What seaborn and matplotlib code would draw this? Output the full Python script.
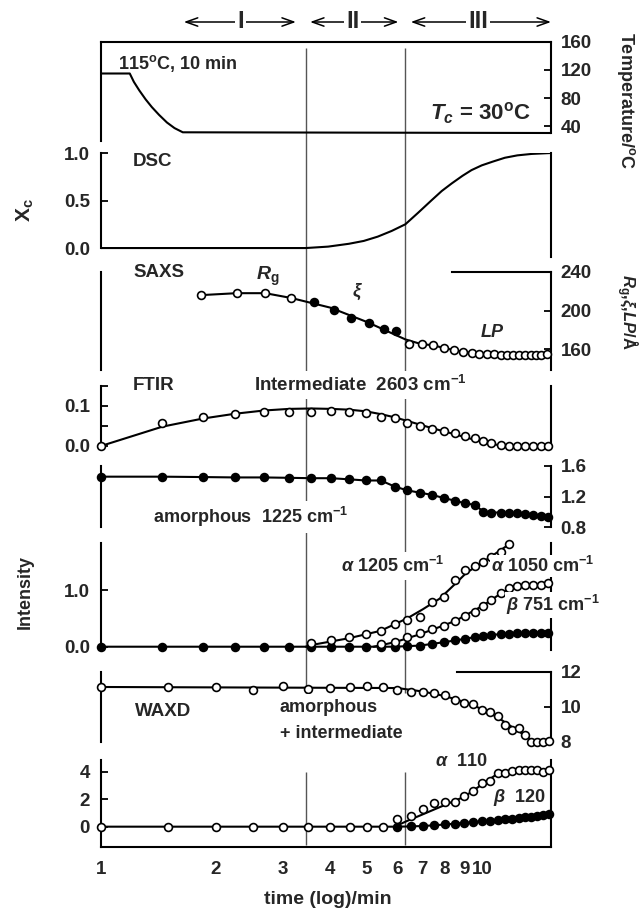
import matplotlib
matplotlib.use("Agg")
import matplotlib.pyplot as plt
from matplotlib.ticker import FixedLocator, FixedFormatter, NullLocator, NullFormatter
import seaborn as sns

sns.set_theme(style="white")
plt.rcParams["font.family"] = ["Liberation Sans", "DejaVu Sans"]
plt.rcParams["font.weight"] = "bold"
plt.rcParams["mathtext.fontset"] = "custom"
plt.rcParams["mathtext.rm"] = "Liberation Sans:bold"
plt.rcParams["mathtext.bf"] = "Liberation Sans:bold"
plt.rcParams["mathtext.it"] = "Liberation Sans:italic:bold"
plt.rcParams["axes.unicode_minus"] = False

# ---------------- data ----------------
VLINES = [3.45, 6.3]
XTICKS = [1, 2, 3, 4, 5, 6, 7, 8, 9, 10]
XTICK_LABELS = ["1", "2", "3", "4", "5", "6", "7", "8", "9", "10"]

TEMP_T = [1.0, 1.19, 1.22, 1.26, 1.31, 1.36, 1.42, 1.49, 1.56, 1.64, 15.2]
TEMP_C = [115, 115, 103, 91, 78, 67, 56, 45, 37, 31, 30]

DSC_T = [1.0, 3.45, 3.95, 4.48, 4.9, 5.33, 5.8, 6.3, 6.8, 7.37, 7.85, 8.34,
         8.9, 9.4, 10.0, 10.7, 11.5, 12.4, 13.5, 15.2]
DSC_X = [0.0, 0.0, 0.015, 0.045, 0.075, 0.12, 0.18, 0.25, 0.37, 0.50, 0.60, 0.68,
         0.76, 0.82, 0.87, 0.91, 0.95, 0.975, 0.99, 1.0]

RG_T = [1.835, 2.27, 2.70, 3.16]
RG_V = [216, 218, 218, 213]
XI_T = [3.62, 4.10, 4.53, 5.05, 5.53, 5.96]
XI_V = [209, 201, 192, 187, 181, 179]
LP_T = [6.45, 6.95, 7.45, 7.95, 8.45, 8.95, 9.4, 9.85, 10.3, 10.75, 11.2, 11.65,
        12.1, 12.55, 13.0, 13.45, 13.9, 14.35, 14.8]
LP_V = [165, 165, 164, 161, 159, 157, 156, 155, 155, 155, 154, 154,
        154, 154, 154, 154, 154, 154, 155]
SAXS_FIT_T = [1.835, 2.27, 2.70, 3.16, 4.0, 5.0, 6.3, 6.95, 7.45, 7.95, 8.45, 8.95, 9.85, 14.8]
SAXS_FIT_V = [216, 218, 218, 213, 203, 188, 170, 165, 164, 161, 159, 157, 155, 155]

T_IR = [1.0, 1.45, 1.85, 2.25, 2.68, 3.12, 3.57, 4.02, 4.49, 4.96, 5.43, 5.91, 6.38, 6.88,
        7.42, 7.95, 8.5, 9.05, 9.6, 10.1, 10.6, 11.2, 11.76, 12.35, 12.95, 13.6, 14.3, 14.95]
INTER_2603 = [0.0, 0.058, 0.071, 0.079, 0.085, 0.084, 0.085, 0.087, 0.085, 0.081, 0.072, 0.069,
              0.058, 0.049, 0.042, 0.037, 0.031, 0.025, 0.019, 0.013, 0.008, 0.003, 0.0, 0.0,
              0.0, 0.0, 0.0, 0.0]
INTER_FIT_T = [1.0, 1.45, 1.85, 2.25, 2.68, 3.12, 3.57, 4.02, 4.49, 4.96, 5.43, 5.91, 6.38,
               6.88, 7.42, 8.5, 9.6, 10.6, 11.5, 14.95]
INTER_FIT_V = [0.0, 0.048, 0.068, 0.080, 0.088, 0.092, 0.093, 0.092, 0.090, 0.086, 0.079, 0.071,
               0.062, 0.053, 0.044, 0.029, 0.015, 0.005, 0.0, 0.0]
AMORPH_1225 = [1.46, 1.46, 1.455, 1.45, 1.45, 1.445, 1.44, 1.44, 1.425, 1.41, 1.41, 1.33,
               1.28, 1.25, 1.22, 1.18, 1.145, 1.11, 1.09, 1.0, 0.99, 0.99, 0.98, 0.98,
               0.965, 0.96, 0.945, 0.93]

A1205_T = [3.57, 4.02, 4.49, 4.96, 5.43, 5.91, 6.38, 6.88, 7.42, 7.95, 8.5, 9.05, 9.6,
           10.1, 10.6, 11.2, 11.76]
A1205_V = [0.07, 0.12, 0.17, 0.22, 0.28, 0.40, 0.48, 0.52, 0.79, 0.88, 1.18, 1.35, 1.42,
           1.50, 1.59, 1.68, 1.81]
A1205_FIT_T = [3.45, 3.57, 4.48, 5.42, 6.37, 7.0, 7.76, 8.55, 9.1, 10.1, 10.9, 11.76]
A1205_FIT_V = [0.0, 0.03, 0.15, 0.28, 0.50, 0.66, 0.85, 1.12, 1.30, 1.50, 1.65, 1.80]
A1050_T = [5.43, 5.91, 6.38, 6.88, 7.42, 7.95, 8.5, 9.05, 9.6, 10.1, 10.6, 11.2, 11.76,
           12.35, 12.95, 13.6, 14.3, 14.95]
A1050_V = [0.04, 0.09, 0.17, 0.24, 0.32, 0.36, 0.45, 0.55, 0.62, 0.71, 0.82, 0.94, 1.03,
           1.07, 1.09, 1.09, 1.09, 1.12]
A1050_FIT_T = [5.2, 5.91, 6.38, 6.88, 7.76, 8.55, 10.1, 11.0, 11.76, 12.4, 13.5, 14.95]
A1050_FIT_V = [0.0, 0.08, 0.15, 0.22, 0.35, 0.46, 0.73, 0.90, 1.02, 1.07, 1.09, 1.11]
B751_V = [0, 0, 0, 0, 0, 0, 0, 0, 0, 0, 0, 0, 0.01, 0.02, 0.05, 0.08, 0.11, 0.14, 0.17,
          0.19, 0.21, 0.22, 0.23, 0.24, 0.24, 0.25, 0.25, 0.25]

T_X = [1.0, 1.5, 2.0, 2.5, 3.0, 3.5, 4.0, 4.5, 5.0, 5.5, 6.0, 6.5, 7.0, 7.5, 8.0, 8.5, 9.0,
       9.5, 10.0, 10.5, 11.0, 11.5, 12.0, 12.5, 13.0, 13.5, 14.0, 14.5, 15.0]
WAXD_AM = [11.16, 11.12, 11.12, 10.97, 11.2, 11.0, 11.06, 11.12, 11.21, 11.12, 10.97, 10.87,
           10.87, 10.81, 10.68, 10.4, 10.2, 10.16, 9.82, 9.72, 9.47, 8.95, 8.7, 8.76, 8.38,
           8.0, 8.0, 8.0, 8.03]
WAXD_AM_FIT_T = [1.0, 6.0, 7.0, 8.0, 9.0, 10.0, 11.0, 12.0, 13.0, 13.6, 15.0]
WAXD_AM_FIT_V = [11.14, 11.08, 10.88, 10.62, 10.28, 9.88, 9.4, 8.85, 8.35, 8.05, 8.03]
A110_V = [0, 0, 0, 0, 0, 0, 0, 0, 0, 0, 0.54, 0.78, 1.27, 1.7, 1.82, 1.82, 2.23, 2.62,
          3.2, 3.35, 3.93, 3.9, 4.07, 4.1, 4.1, 4.1, 4.1, 4.0, 4.1]
A110_FIT_T = [1.0, 5.9, 6.3, 9.0, 11.0, 12.0, 15.0]
A110_FIT_V = [0.0, 0.0, 0.36, 2.18, 3.85, 4.05, 4.1]
B120_T = [6.0, 6.5, 7.0, 7.5, 8.0, 8.5, 9.0, 9.5, 10.0, 10.5, 11.0, 11.5, 12.0, 12.5,
          13.0, 13.5, 14.0, 14.5, 15.0]
B120_V = [0.0, 0.02, 0.05, 0.1, 0.16, 0.22, 0.28, 0.33, 0.38, 0.43, 0.48, 0.53, 0.58,
          0.63, 0.68, 0.73, 0.78, 0.83, 0.9]

# ---------------- layout helpers ----------------
W, H = 641, 914
fig = plt.figure(figsize=(W / 100, H / 100), dpi=100)
XL, XR = 101, 551
XLIM = (1.0, 15.2)
LW = 1.5
SP_LW = 1.5
TICK_FS = 13.5


def rect(top, bot):
    return [XL / W, 1 - bot / H, (XR - XL) / W, (bot - top) / H]


def fx(x):
    return x / W


def fy(y):
    return 1 - y / H


def line(ax, x, y, lw=LW):
    sns.lineplot(x=x, y=y, ax=ax, color="black", linewidth=lw, estimator=None,
                 sort=False, legend=False)


def pts(ax, x, y, filled):
    sns.scatterplot(x=x, y=y, ax=ax, s=32, color="black" if filled else "white",
                    edgecolor="black", linewidth=1.2, legend=False, zorder=5,
                    clip_on=False)


def panel(top, bot):
    ax = fig.add_axes(rect(top, bot))
    ax.set_zorder(2)
    ax.patch.set_visible(False)
    return ax


def finish(ax, ylim, left=None, right=None, top=None, bottom=False):
    ax.set_xscale("log")
    ax.set_xlim(*XLIM)
    ax.set_ylim(*ylim)
    ax.set_xlabel("")
    ax.set_ylabel("")
    ax.xaxis.set_major_locator(NullLocator())
    ax.xaxis.set_minor_locator(NullLocator())
    ax.yaxis.set_major_locator(NullLocator())
    ax.yaxis.set_minor_locator(NullLocator())
    for name, b in (("left", left), ("right", right), ("top", top)):
        sp = ax.spines[name]
        sp.set_linewidth(SP_LW)
        sp.set_color("black")
        if b is None:
            sp.set_visible(False)
        else:
            sp.set_visible(True)
            sp.set_bounds(*b)
    ax.spines["bottom"].set_visible(bottom)
    ax.spines["bottom"].set_linewidth(SP_LW)
    ax.spines["bottom"].set_color("black")
    ax.tick_params(axis="both", which="both", direction="in", length=5, width=1.3,
                   color="black", labelsize=TICK_FS, left=False, right=False,
                   labelleft=False, labelright=False, bottom=False, top=False,
                   labelbottom=False)


def yticks(ax, ticks, labels, side):
    ax.yaxis.set_major_locator(FixedLocator(ticks))
    ax.yaxis.set_major_formatter(FixedFormatter(labels))
    if side == "left":
        ax.tick_params(axis="y", which="major", left=True, labelleft=True, pad=8)
    else:
        ax.tick_params(axis="y", which="major", right=True, labelright=True, pad=7)


def caps(ax, ticks, side):
    ax.yaxis.set_minor_locator(FixedLocator(ticks))
    ax.yaxis.set_minor_formatter(NullFormatter())
    if side == "left":
        ax.tick_params(axis="y", which="minor", left=True, length=5, width=1.3)
    else:
        ax.tick_params(axis="y", which="minor", right=True, length=5, width=1.3)


# ---------------- overlay for vertical region lines ----------------
ov = fig.add_axes(rect(42, 847))
ov.set_zorder(1)
ov.patch.set_visible(False)
ov.set_xscale("log")
ov.set_xlim(*XLIM)
ov.set_ylim(847, 42)
ov.axis("off")
ov.vlines(VLINES, 48, 693, color="#555555", linewidth=1.0)
ov.vlines(VLINES, 772, 845, color="#555555", linewidth=1.0)

# header arrows
for (a, b, mid, lab) in [(1.65, 3.25, 2.33, "I"), (3.54, 6.04, 4.58, "II"),
                         (6.51, 15.2, 9.8, "III")]:
    ov.annotate("", xy=(b, 22), xytext=(a, 22), annotation_clip=False,
                arrowprops=dict(arrowstyle="<->,head_length=0.7,head_width=0.25",
                                lw=1.1, color="black", shrinkA=0, shrinkB=0))
    ov.text(mid, 22, lab, ha="center", va="center", fontsize=17, fontweight="bold",
            clip_on=False, bbox=dict(facecolor="white", edgecolor="none", pad=1.5))

# ---------------- panel 1: temperature ----------------
ax = panel(42, 141.4)
line(ax, TEMP_T, TEMP_C)
finish(ax, (18, 160), left=(18, 160), right=(30, 160), top=(1.0, 15.2))
yticks(ax, [40, 80, 120, 160], ["40", "80", "120", "160"], "right")

# ---------------- panel 2: DSC ----------------
ax = panel(153, 256.6)
line(ax, DSC_T, DSC_X)
finish(ax, (-0.09, 1.0), left=(0, 1.0), right=(-0.09, 1.0))
yticks(ax, [0.0, 0.5, 1.0], ["0.0", "0.5", "1.0"], "left")

# ---------------- panel 3: SAXS ----------------
ax = panel(272, 370.2)
line(ax, SAXS_FIT_T, SAXS_FIT_V)
pts(ax, RG_T, RG_V, False)
pts(ax, XI_T, XI_V, True)
pts(ax, LP_T, LP_V, False)
finish(ax, (138, 240), left=(138, 240), right=(138, 240), top=(8.35, 15.2))
yticks(ax, [160, 200, 240], ["160", "200", "240"], "right")

# ---------------- panel 4: FTIR intermediate ----------------
ax = panel(385.5, 448)
line(ax, INTER_FIT_T, INTER_FIT_V)
pts(ax, T_IR, INTER_2603, False)
finish(ax, (-0.005, 0.15), left=(-0.005, 0.15), right=(-0.005, 0.15))
yticks(ax, [0.0, 0.05, 0.1, 0.15], ["0.0", "", "0.1", ""], "left")

# ---------------- panel 5: FTIR amorphous ----------------
ax = panel(466, 527)
line(ax, T_IR, AMORPH_1225)
pts(ax, T_IR, AMORPH_1225, True)
finish(ax, (0.8, 1.6), left=(0.8, 1.6), right=(0.8, 1.6))
yticks(ax, [0.8, 1.2, 1.6], ["0.8", "1.2", "1.6"], "right")
caps(ax, [0.8, 1.6], "left")

# ---------------- panel 6: FTIR crystalline ----------------
ax = panel(543, 650)
line(ax, A1205_FIT_T, A1205_FIT_V)
line(ax, A1050_FIT_T, A1050_FIT_V)
line(ax, T_IR, B751_V)
pts(ax, T_IR, B751_V, True)
pts(ax, A1205_T, A1205_V, False)
pts(ax, A1050_T, A1050_V, False)
finish(ax, (-0.058, 1.83), left=(-0.058, 1.83), right=(-0.058, 1.83))
yticks(ax, [0.0, 1.0], ["0.0", "1.0"], "left")

# ---------------- panel 7: WAXD amorphous ----------------
ax = panel(672, 741.7)
line(ax, WAXD_AM_FIT_T, WAXD_AM_FIT_V)
pts(ax, T_X, WAXD_AM, False)
finish(ax, (8, 12), left=(8, 12), right=(8, 12), top=(8.59, 15.2))
yticks(ax, [8, 10, 12], ["8", "10", "12"], "right")
caps(ax, [8, 12], "left")

# ---------------- panel 8: WAXD crystalline ----------------
ax = panel(760, 847.3)
line(ax, A110_FIT_T, A110_FIT_V)
line(ax, B120_T, B120_V)
pts(ax, B120_T, B120_V, True)
pts(ax, T_X, A110_V, False)
finish(ax, (-1.5, 4.85), left=(-1.5, 4.85), right=(-1.5, 4.85), bottom=True)
yticks(ax, [0, 2, 4], ["0", "2", "4"], "left")
ax.xaxis.set_major_locator(FixedLocator(XTICKS))
ax.xaxis.set_major_formatter(FixedFormatter(XTICK_LABELS))
ax.xaxis.set_minor_locator(FixedLocator([2, 10]))
ax.xaxis.set_minor_formatter(NullFormatter())
ax.tick_params(axis="x", which="major", bottom=True, labelbottom=True, length=0, pad=10,
               labelsize=TICK_FS)
ax.tick_params(axis="x", which="minor", bottom=True, length=5, width=1.3, direction="in")

# ---------------- texts ----------------
WB = dict(facecolor="white", edgecolor="none", pad=3)
WB1 = dict(facecolor="white", edgecolor="none", pad=1)


def T(x, y, s, size=13, ha="left", rot=0, bbox=None, **kw):
    fig.text(fx(x), fy(y), s, ha=ha, va="center", fontsize=size, fontweight="bold",
             rotation=rot, bbox=bbox, zorder=6, **kw)


T(118, 63, r"115$^{\rm o}$C, 10 min", 13)
T(480, 113, r"$T_c$ = 30$^{\rm o}$C", 16, ha="center")
T(133, 162, "DSC", 13.5)
T(133, 273, "SAXS", 13.5)
T(268, 276, r"$R_{\rm g}$", 14, ha="center")
T(357, 292, r"$\xi$", 13, ha="center")
T(493, 332, r"$LP$", 13, ha="center")
T(133, 385, "FTIR", 13.5)
T(254, 385, r"Intermediate  2603 cm$^{-1}$", 13.5, bbox=WB)
T(153, 517, r"amorphous  1225 cm$^{-1}$", 13, bbox=WB)
T(341, 566, r"$\alpha$ 1205 cm$^{-1}$", 13, bbox=WB)
T(491, 566, r"$\alpha$ 1050 cm$^{-1}$", 13, bbox=WB1)
T(506, 605, r"$\beta$ 751 cm$^{-1}$", 13, bbox=WB1)
T(135, 712, "WAXD", 13.5)
T(280, 707, "amorphous", 13, bbox=WB)
T(280, 733, "+ intermediate", 13, bbox=WB)
T(435, 761, r"$\alpha$  110", 13)
T(493, 798, r"$\beta$  120", 13)

# axis labels
T(25, 210, r"$\mathbf{X}_{\mathbf{c}}$", 15, ha="center", rot=90)
T(25, 592, "Intensity", 13, ha="center", rot=90)
T(626, 100, r"Temperature/$^{\rm o}$C", 13, ha="center", rot=270)
T(627, 312, r"$R_{\rm g}$,$\xi$,$LP$/Å", 12, ha="center", rot=270)
T(328, 900, "time (log)/min", 14, ha="center")

fig.savefig("out.png", dpi=100)
